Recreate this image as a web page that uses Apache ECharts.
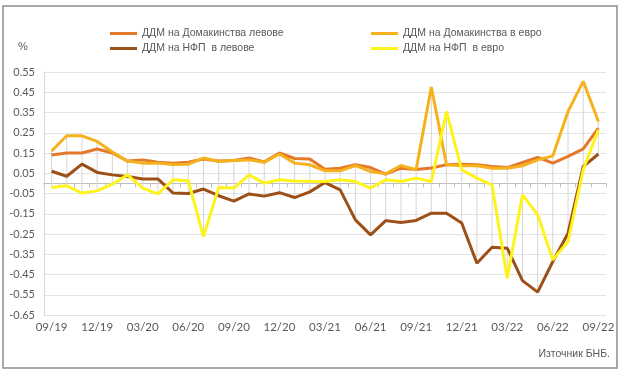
<!DOCTYPE html>
<html>
<head>
<meta charset="utf-8">
<script src="https://cdn.jsdelivr.net/npm/echarts@6/dist/echarts.min.js"></script>
<style>
html,body{margin:0;padding:0;background:#fff;}
#c{width:622px;height:374px;}
</style>
</head>
<body>
<div id="c"></div>
<script>
const categories = ['09/19','10/19','11/19','12/19','01/20','02/20','03/20','04/20','05/20','06/20','07/20','08/20',
  '09/20','10/20','11/20','12/20','01/21','02/21','03/21','04/21','05/21','06/21','07/21','08/21',
  '09/21','10/21','11/21','12/21','01/22','02/22','03/22','04/22','05/22','06/22','07/22','08/22','09/22'];

const hhLev = [0.14,0.15,0.15,0.17,0.15,0.11,0.116,0.104,0.10,0.104,0.12,0.111,
  0.113,0.125,0.106,0.15,0.123,0.12,0.07,0.075,0.092,0.078,0.046,0.075,
  0.068,0.076,0.092,0.095,0.092,0.083,0.078,0.103,0.128,0.10,0.133,0.17,0.273];
const hhEur = [0.16,0.235,0.235,0.207,0.155,0.11,0.10,0.10,0.093,0.095,0.125,0.108,
  0.113,0.116,0.104,0.145,0.10,0.092,0.062,0.062,0.088,0.059,0.047,0.088,
  0.067,0.476,0.092,0.087,0.087,0.075,0.075,0.087,0.116,0.136,0.355,0.504,0.306];
const nfcLev = [0.06,0.035,0.095,0.054,0.042,0.034,0.022,0.022,-0.048,-0.05,-0.028,-0.061,
  -0.088,-0.052,-0.063,-0.046,-0.07,-0.042,0.004,-0.032,-0.18,-0.254,-0.184,-0.193,
  -0.183,-0.147,-0.147,-0.196,-0.394,-0.315,-0.32,-0.48,-0.537,-0.386,-0.246,0.083,0.145];
const nfcEur = [-0.02,-0.012,-0.048,-0.037,-0.004,0.042,-0.023,-0.052,0.018,0.013,-0.263,-0.02,
  -0.023,0.042,0.001,0.018,0.012,0.01,0.009,0.018,0.009,-0.023,0.018,0.009,
  0.026,0.009,0.355,0.067,0.026,-0.008,-0.468,-0.057,-0.155,-0.378,-0.287,0.067,0.265];

const seriesNames = ['ДДМ на Домакинства левове','ДДМ на Домакинства в евро','ДДМ на НФП  в левове','ДДМ на НФП  в евро'];
const colors = ['#E5792B','#F5B21E','#9C4F17','#FFF31C'];
const yTicks = {min:-0.65, max:0.55, step:0.1};

const all = [hhLev, hhEur, nfcLev, nfcEur];
const hiLo = categories.map((c, i) => {
  const vals = all.map(a => a[i]);
  return [i, Math.min(...vals), Math.max(...vals)];
});

const chart = echarts.init(document.getElementById('c'), null, {renderer:'canvas'});
const lineSeries = all.map((d, k) => ({
  name: seriesNames[k], type:'line', data:d, symbol:'none', xAxisIndex:0, yAxisIndex:0,
  lineStyle:{color:colors[k], width:3}, itemStyle:{color:colors[k]}, z: 3 + k, silent:true
}));

const legendText = {color:'#595959', fontSize:10.5, fontFamily:'Liberation Sans'};
const option = {
  animation:false,
  grid:{left:44, right:16, top:72, bottom:59, containLabel:false},
  legend:[
    {data:[seriesNames[0], seriesNames[2]], orient:'vertical', left:105, top:23, itemGap:4,
     itemWidth:27, itemHeight:3, icon:'rect', textStyle:legendText},
    {data:[seriesNames[1], seriesNames[3]], orient:'vertical', left:366, top:23, itemGap:4,
     itemWidth:27, itemHeight:3, icon:'rect', textStyle:legendText}
  ],
  xAxis:[
    {type:'category', data:categories, boundaryGap:true,
     axisLine:{show:true, onZero:true, lineStyle:{color:'#bfbfbf', width:1}},
     axisTick:{show:true, interval:0, length:4, lineStyle:{color:'#bfbfbf'}},
     axisLabel:{show:false}, splitLine:{show:false}},
    {type:'category', data:categories, boundaryGap:true, position:'bottom',
     axisLine:{show:false, onZero:false}, axisTick:{show:false},
     axisLabel:{show:true, interval:2, margin:6, color:'#595959', fontSize:11.5, fontFamily:'Lato'},
     splitLine:{show:false}}
  ],
  yAxis:{type:'value', min:yTicks.min, max:yTicks.max, interval:yTicks.step,
    axisLine:{show:true, lineStyle:{color:'#d9d9d9'}}, axisTick:{show:false},
    axisLabel:{color:'#595959', fontSize:11, fontFamily:'Lato', margin:9,
      formatter:v => (Math.round(v*100)/100).toFixed(2)},
    splitLine:{show:true, lineStyle:{color:'#e3e3e3', width:1}}
  },
  graphic:[
    {type:'rect', shape:{x:3, y:6, width:614, height:362}, style:{fill:'none', stroke:'#8c8c8c', lineWidth:1.5}, silent:true},
    {type:'text', left:18, top:41, style:{text:'%', fill:'#595959', font:'11px Liberation Sans'}},
    {type:'text', right:12, top:349, style:{text:'Източник БНБ.', fill:'#595959', font:'10.5px Liberation Sans'}}
  ],
  series:[
    {type:'custom', name:'hl', xAxisIndex:0, yAxisIndex:0, data:hiLo, z:2, silent:true,
     encode:{x:0, y:[1,2]},
     renderItem:(params, api) => {
       const i = api.value(0);
       const p1 = api.coord([i, api.value(2)]);
       const p2 = api.coord([i, api.value(1)]);
       return {type:'line', shape:{x1:p1[0], y1:p1[1], x2:p2[0], y2:p2[1]}, style:{stroke:'#d6d6d6', lineWidth:1}};
     }}
  ].concat(lineSeries)
};
chart.setOption(option);
</script>
</body>
</html>
